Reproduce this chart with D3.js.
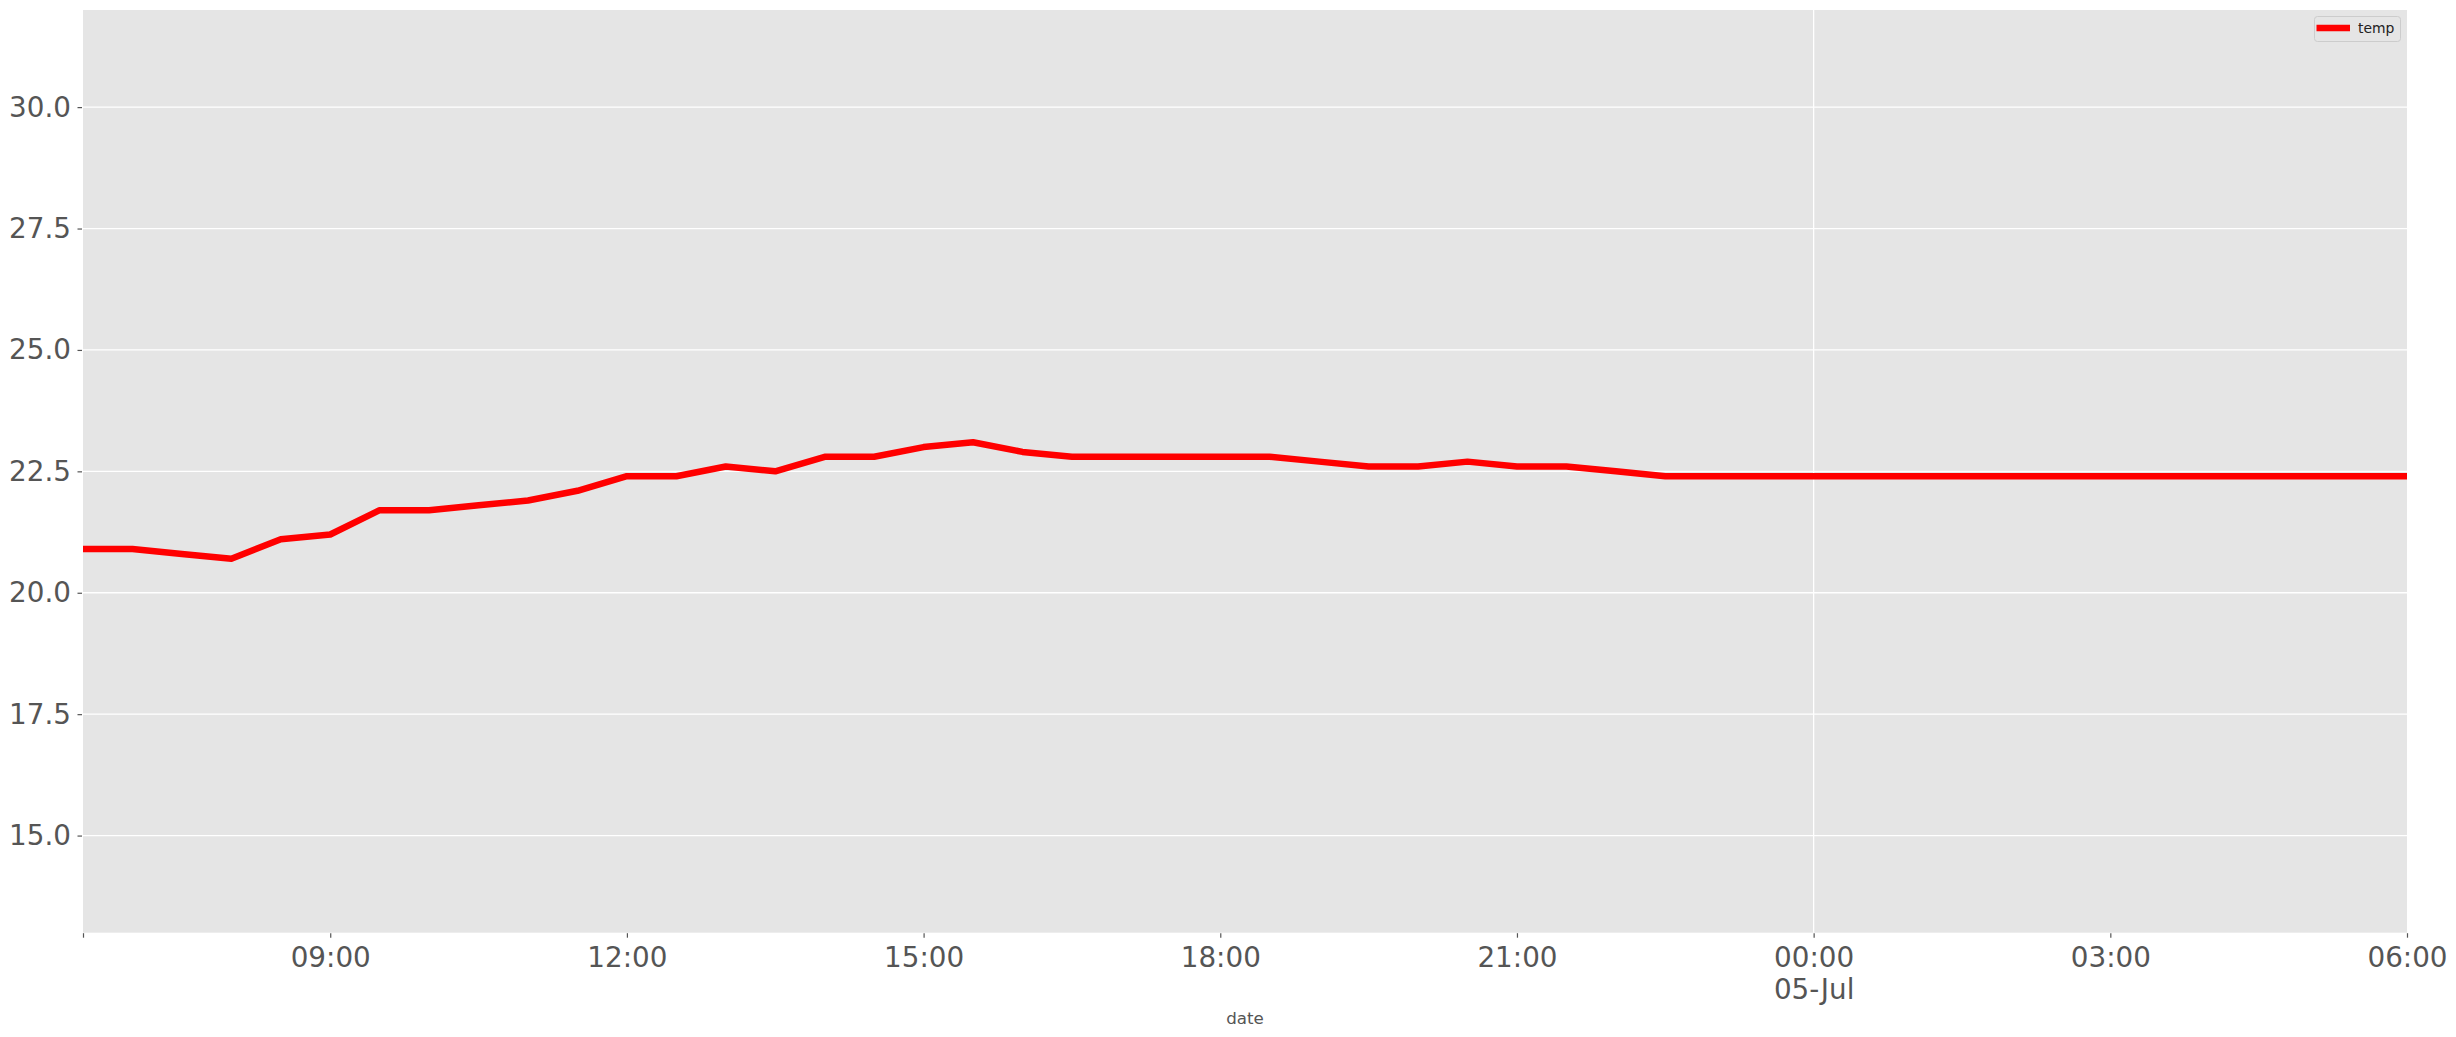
<!DOCTYPE html>
<html>
<head>
<meta charset="utf-8">
<script src="https://cdn.jsdelivr.net/npm/d3@7"></script>
<style>
  html, body { margin: 0; padding: 0; background: #ffffff; }
  svg { display: block; }
  text { font-family: "DejaVu Sans", sans-serif; }
</style>
</head>
<body>
<svg id="chart" width="2456" height="1037"></svg>
<script>
// ---- data ----
const times = [
  "2020-07-04T06:30","2020-07-04T07:00","2020-07-04T07:30","2020-07-04T08:00",
  "2020-07-04T08:30","2020-07-04T09:00","2020-07-04T09:30","2020-07-04T10:00",
  "2020-07-04T10:30","2020-07-04T11:00","2020-07-04T11:30","2020-07-04T12:00",
  "2020-07-04T12:30","2020-07-04T13:00","2020-07-04T13:30","2020-07-04T14:00",
  "2020-07-04T14:30","2020-07-04T15:00","2020-07-04T15:30","2020-07-04T16:00",
  "2020-07-04T16:30","2020-07-04T17:00","2020-07-04T17:30","2020-07-04T18:00",
  "2020-07-04T18:30","2020-07-04T19:00","2020-07-04T19:30","2020-07-04T20:00",
  "2020-07-04T20:30","2020-07-04T21:00","2020-07-04T21:30","2020-07-04T22:00",
  "2020-07-04T22:30","2020-07-04T23:00","2020-07-04T23:30","2020-07-05T00:00",
  "2020-07-05T00:30","2020-07-05T01:00","2020-07-05T01:30","2020-07-05T02:00",
  "2020-07-05T02:30","2020-07-05T03:00","2020-07-05T03:30","2020-07-05T04:00",
  "2020-07-05T04:30","2020-07-05T05:00","2020-07-05T05:30","2020-07-05T06:00"
];
const temp = [
  20.9, 20.9, 20.8, 20.7, 21.1, 21.2, 21.7, 21.7,
  21.8, 21.9, 22.1, 22.4, 22.4, 22.6, 22.5, 22.8,
  22.8, 23.0, 23.1, 22.9, 22.8, 22.8, 22.8, 22.8,
  22.8, 22.7, 22.6, 22.6, 22.7, 22.6, 22.6, 22.5,
  22.4, 22.4, 22.4, 22.4, 22.4, 22.4, 22.4, 22.4,
  22.4, 22.4, 22.4, 22.4, 22.4, 22.4, 22.4, 22.4
];
const xTicks = ["2020-07-04T09:00","2020-07-04T12:00","2020-07-04T15:00","2020-07-04T18:00",
                "2020-07-04T21:00","2020-07-05T00:00","2020-07-05T03:00","2020-07-05T06:00"];
const xTickLabels = ["09:00","12:00","15:00","18:00","21:00","00:00","03:00","06:00"];
const xTickSubLabels = ["","","","","","05-Jul","",""];
const xMajorGrid = ["2020-07-05T00:00"];
const xDomain = ["2020-07-04T06:30","2020-07-05T06:00"];
const yTicks = [15.0, 17.5, 20.0, 22.5, 25.0, 27.5, 30.0];
const yDomain = [13.0, 32.0];
const seriesName = "temp";
const xLabel = "date";

// ---- layout ----
const plotL = 83, plotR = 2407, plotT = 10, plotB = 932.7;
const parse = d3.utcParse("%Y-%m-%dT%H:%M");
const data = times.map((t, i) => ({ t: parse(t), v: temp[i] }));

const x = d3.scaleUtc().domain(xDomain.map(parse)).range([plotL, plotR]);
const y = d3.scaleLinear().domain(yDomain).range([plotB, plotT]);

const svg = d3.select("#chart");

// background
svg.append("rect").attr("x", plotL).attr("y", plotT)
  .attr("width", plotR - plotL).attr("height", plotB - plotT)
  .attr("fill", "#e5e5e5");

// grid lines
svg.append("g").selectAll("line").data(yTicks).join("line")
  .attr("x1", plotL).attr("x2", plotR)
  .attr("y1", d => y(d)).attr("y2", d => y(d))
  .attr("stroke", "#ffffff").attr("stroke-width", 1.3);
svg.append("g").selectAll("line").data(xMajorGrid.map(parse)).join("line")
  .attr("x1", d => x(d)).attr("x2", d => x(d))
  .attr("y1", plotT).attr("y2", plotB)
  .attr("stroke", "#ffffff").attr("stroke-width", 1.3);

// y axis
const yAxis = d3.axisLeft(y).tickValues(yTicks).tickFormat(d3.format(".1f"))
  .tickSize(4.5).tickPadding(6.5);
const gy = svg.append("g").attr("transform", `translate(${plotL - 1},0)`).call(yAxis);
gy.select(".domain").remove();
gy.selectAll(".tick line").attr("stroke", "#555555").attr("stroke-width", 1.2);
gy.selectAll(".tick text").attr("fill", "#555555").attr("font-size", 27.8)
  .attr("font-family", "DejaVu Sans, sans-serif");

// x axis
const xTickDates = [parse(xDomain[0])].concat(xTicks.map(parse));
const labelMap = new Map(xTicks.map((t, i) => [parse(t).getTime(), i]));
const xAxis = d3.axisBottom(x).tickValues(xTickDates)
  .tickFormat(d => { const i = labelMap.get(d.getTime()); return i === undefined ? "" : xTickLabels[i]; })
  .tickSize(4.5).tickPadding(9.5);
const gx = svg.append("g").attr("transform", `translate(0,${plotB + 0.5})`).call(xAxis);
gx.select(".domain").remove();
gx.selectAll(".tick line").attr("stroke", "#555555").attr("stroke-width", 1.2);
gx.selectAll(".tick text").attr("fill", "#555555").attr("font-size", 27.8)
  .attr("font-family", "DejaVu Sans, sans-serif")
  .each(function(d) {
    const i = labelMap.get(d.getTime());
    if (i !== undefined && xTickSubLabels[i]) {
      d3.select(this).append("tspan").attr("x", 0).attr("dy", "1.15em").text(xTickSubLabels[i]);
    }
  });

// x label
svg.append("text").attr("x", (plotL + plotR) / 2).attr("y", 1024)
  .attr("text-anchor", "middle").attr("fill", "#555555").attr("font-size", 16.7)
  .text(xLabel);

// line
const line = d3.line().x(d => x(d.t)).y(d => y(d.v));
svg.append("path").datum(data).attr("d", line)
  .attr("fill", "none").attr("stroke", "#ff0000").attr("stroke-width", 6.5)
  .attr("stroke-linejoin", "round");

// legend
const lg = svg.append("g");
lg.append("rect").attr("x", 2314.5).attr("y", 16.5).attr("width", 86).attr("height", 25)
  .attr("rx", 3).attr("fill", "#e5e5e5").attr("stroke", "#cccccc").attr("stroke-width", 1)
  .attr("fill-opacity", 0.8);
lg.append("line").attr("x1", 2316.5).attr("x2", 2350).attr("y1", 28).attr("y2", 28)
  .attr("stroke", "#ff0000").attr("stroke-width", 6.5);
lg.append("text").attr("x", 2358).attr("y", 33).attr("fill", "#222222")
  .attr("font-size", 13.9).text(seriesName);
</script>
</body>
</html>
